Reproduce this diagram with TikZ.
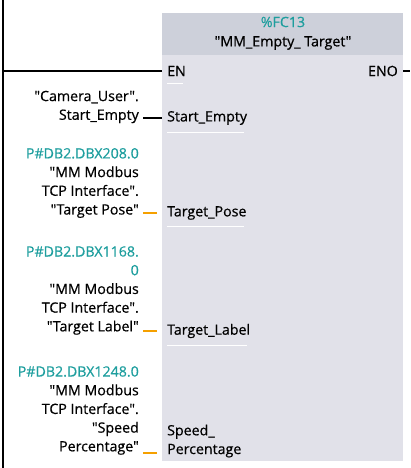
\documentclass[tikz,border=0pt]{standalone}
\usepackage{fontspec}
\setmainfont{Open Sans}[Ligatures=TeXOff,FakeBold=0.6]
\usetikzlibrary{positioning}
\definecolor{tealtext}{HTML}{1E9E9E}
\definecolor{wireorange}{HTML}{F5A000}
\definecolor{boxbody}{HTML}{E1E1E9}
\definecolor{boxhead}{HTML}{CDD0DA}
\newcommand{\fsize}{\fontsize{14.2}{18.7}\selectfont}
\newcommand{\wirewidth}{2.2pt}

\begin{document}
\begin{tikzpicture}[x=1pt,y=-1pt,font=\fsize,
  pin/.style={anchor=west,inner sep=5pt,align=left},
  operand/.style={anchor=east,inner sep=4pt,align=right},
  blackwire/.style={draw=black,line width=\wirewidth},
  orangewire/.style={draw=wireorange,line width=\wirewidth,shorten <=5pt},
  underline/.style={draw=white,line width=1pt,shorten >=8pt}]
\useasboundingbox (0,0) rectangle (410,468);
% block body and header
\fill[boxbody] (162,13) rectangle (403,461);
\fill[boxhead] (162,13) rectangle (403,55);
\node[tealtext] (fc) at (283,22) {\%FC13};
\node (name) at (283,43) {"MM\_Empty\_ Target"};
% power rail
\coordinate (railtop) at (3,0);
\coordinate (railbot) at (3,468);
\draw[line width=2.5pt] (railtop) -- (railbot);
% pins
\node[pin] (en) at (162,71) {EN};
\node[anchor=east,inner sep=5pt] (eno) at (403,71) {ENO};
\node[pin] (se) at (162,118) {Start\_Empty};
\node[pin] (tp) at (162,213) {Target\_Pose};
\node[pin] (tl) at (162,331) {Target\_Label};
\node[pin] (sp) at (162,441) {Speed\_\\Percentage};
\coordinate (enoout) at (410,71);
% operands
\node[operand] (cam) at (143,107) {"Camera\_User".\\Start\_Empty};
\node[operand] (pose) at (143,183) {\textcolor{tealtext}{P\#DB2.DBX208.0}\\"MM Modbus\\TCP Interface".\\"Target Pose"};
\node[operand] (label) at (143,290.5) {\textcolor{tealtext}{P\#DB2.DBX1168.}\\\textcolor{tealtext}{0}\\"MM Modbus\\TCP Interface".\\"Target Label"};
\node[operand] (speed) at (143,410.5) {\textcolor{tealtext}{P\#DB2.DBX1248.0}\\"MM Modbus\\TCP Interface".\\"Speed\\Percentage"};
% wires
\draw[blackwire] (railtop |- en.west) -- (en.west);
\draw[blackwire] (eno.east) -- (enoout);
\draw[blackwire] (se.west) -- (se.west -| cam.east);
\draw[orangewire] (tp.west) -- (tp.west -| pose.east);
\draw[orangewire] (tl.west) -- (tl.west -| label.east);
\draw[orangewire] (sp.west |- speed.south) ++(0,-6) coordinate (spin) -- (spin -| speed.east);
% pin underlines
\draw[underline] ([xshift=5pt,yshift=-2pt]en.south west) -- ([yshift=-2pt]en.south east);
\draw[underline] ([xshift=5pt,yshift=-2pt]se.south west) -- ([yshift=-2pt]se.south east);
\draw[underline] ([xshift=5pt,yshift=-2pt]tp.south west) -- ([yshift=-2pt]tp.south east);
\draw[underline] ([xshift=5pt,yshift=-2pt]tl.south west) -- ([yshift=-2pt]tl.south east);
\end{tikzpicture}
\end{document}
